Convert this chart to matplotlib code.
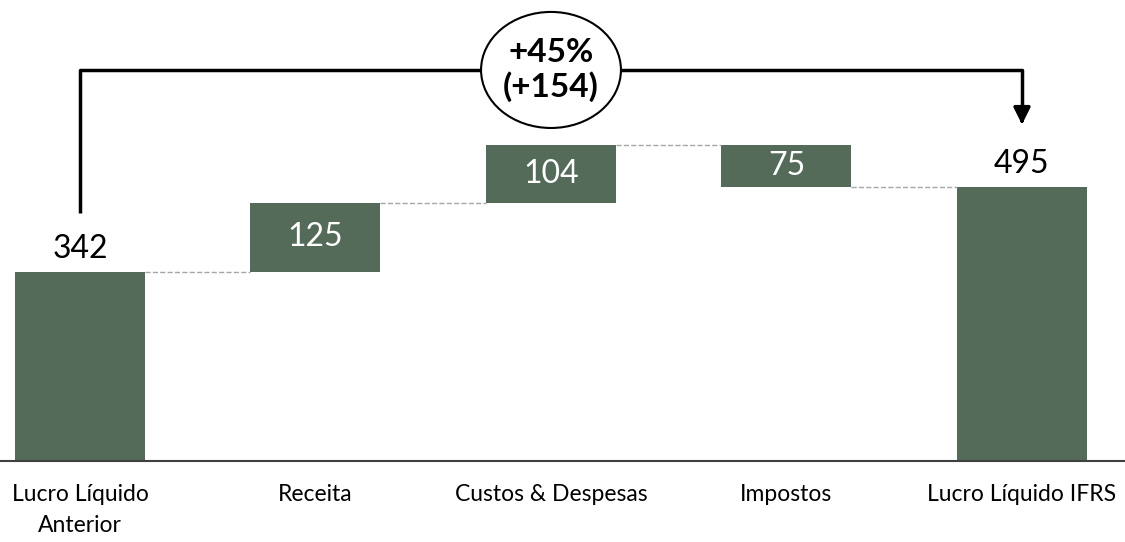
import matplotlib.pyplot as plt
from matplotlib.patches import Ellipse

plt.rcParams['font.family'] = ['Lato', 'DejaVu Sans']

categories = ['Lucro Líquido\nAnterior', 'Receita', 'Custos & Despesas', 'Impostos', 'Lucro Líquido IFRS']
start_value = 342
deltas = [125, 104, -75]
end_value = 495
change_label = '+45%\n(+154)'

green = '#536B58'

fig = plt.figure(figsize=(11.25, 5.42), dpi=100)
ax = fig.add_axes([0, 0, 1, 1])
ax.set_xlim(-0.3397, 4.4374)
ax.set_ylim(-146.6, 834.2)
ax.axis('off')

w = 0.552

# first total bar
ax.bar(0, start_value, width=w, color=green)
ax.text(0, start_value + 42, str(start_value), ha='center', va='center', fontsize=23, color='black')

# floating bars
level = start_value
for i, d in enumerate(deltas, start=1):
    if d >= 0:
        bottom = level
    else:
        bottom = level + d
    ax.bar(i, abs(d), bottom=bottom, width=w, color=green)
    ax.text(i, bottom + abs(d) / 2, str(abs(d)), ha='center', va='center', fontsize=23, color='white')
    # connector from previous bar
    ax.plot([i - 1 + w / 2, i - w / 2], [level, level], ls='--', color='#A6A6A6', lw=1)
    level = level + d

# connector to final bar
ax.plot([3 + w / 2, 4 - w / 2], [level, level], ls='--', color='#A6A6A6', lw=1)

# final total bar
ax.bar(4, end_value, width=w, color=green)
ax.text(4, end_value + 42, str(end_value), ha='center', va='center', fontsize=23, color='black')

# baseline
ax.axhline(0, color='#404040', lw=1.5)

# category labels
for i, c in enumerate(categories):
    ax.text(i, -42, c, ha='center', va='top', fontsize=16.5, linespacing=1.55)

# bracket with arrow
top_y = 707.6
ax.plot([0, 0, 4, 4], [449, top_y, top_y, 620], color='black', lw=2.5, solid_capstyle='butt')
ax.annotate('', xy=(4, 604), xytext=(4, 625),
            arrowprops=dict(arrowstyle='-|>', color='black', lw=2.5, mutation_scale=25))

ell = Ellipse((2, top_y), 0.594, 210, facecolor='white', edgecolor='black', lw=1.5, zorder=5)
ax.add_patch(ell)
ax.text(2, top_y, change_label, ha='center', va='center', fontsize=24, fontweight='bold',
        linespacing=1.15, zorder=6)

fig.savefig('out.png', dpi=100)
